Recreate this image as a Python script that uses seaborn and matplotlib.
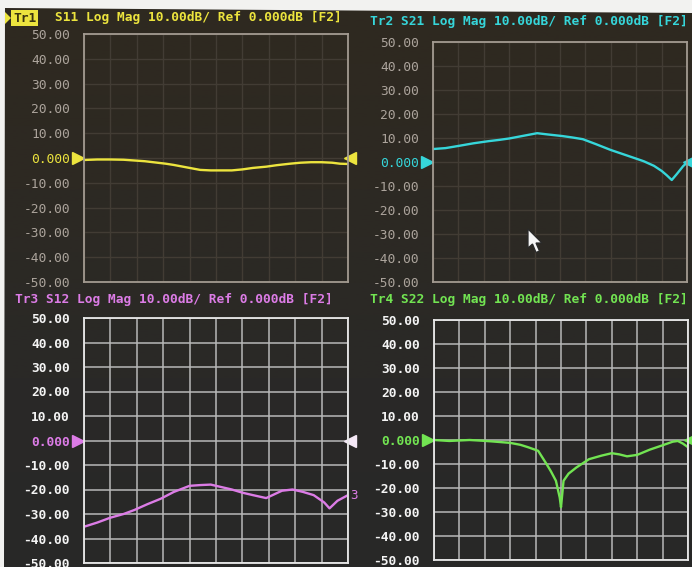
import numpy as np
import matplotlib
matplotlib.use("Agg")
import matplotlib.pyplot as plt
import seaborn as sns
import pandas as pd
from matplotlib.patches import Polygon
from matplotlib.colors import LinearSegmentedColormap
from matplotlib.transforms import blended_transform_factory

# ---- trace data (normalised sweep position, dB) ----
s11_x = [0, .05, .1, .15, .19, .23, .27, .31, .34, .38, .42, .44, .48, .52,
         .56, .6, .64, .69, .73, .78, .82, .86, .9, .94, .97, 1.0]
s11_db = [-0.8, -0.6, -0.6, -0.7, -1.0, -1.3, -1.8, -2.3, -2.8, -3.6, -4.4,
          -4.8, -5.0, -5.0, -5.0, -4.6, -4.0, -3.5, -2.9, -2.3, -1.9, -1.7,
          -1.7, -1.9, -2.3, -2.4]

s21_x = [0, .05, .106, .16, .22, .26, .3, .35, .41, .45, .51, .55, .59, .64,
         .7, .75, .8, .83, .87, .9, .92, .94, .96, .985, 1.0]
s21_db = [5.4, 5.8, 6.8, 7.8, 8.7, 9.2, 9.8, 10.8, 12.0, 11.5, 10.8, 10.2,
          9.5, 7.5, 5.0, 3.2, 1.4, 0.3, -1.6, -3.7, -5.5, -7.5, -5.0, -1.7, -0.3]

s12_x = [0, .05, .1, .15, .19, .24, .29, .34, .4, .44, .48, .52, .56, .6,
         .64, .69, .72, .75, .79, .83, .87, .91, .93, .96, 1.0]
s12_db = [-35.2, -33.5, -31.5, -30.0, -28.4, -26.0, -23.8, -21.0, -18.5,
          -18.2, -18.0, -19.0, -20.0, -21.3, -22.3, -23.5, -22.0, -20.5,
          -20.0, -21.0, -22.3, -25.3, -27.7, -24.6, -22.3]

s22_x = [0, .06, .14, .19, .23, .3, .34, .37, .41, .44, .46, .48, .495, .5,
         .51, .53, .56, .61, .66, .7, .73, .76, .8, .85, .9, .94, .96, .98, 1.0]
s22_db = [0.0, -0.4, 0.0, -0.3, -0.6, -1.2, -2.0, -3.0, -4.5, -9.5, -13.0,
          -17.0, -24.0, -28.0, -17.0, -14.0, -11.5, -8.0, -6.5, -5.5, -6.0,
          -6.8, -6.2, -4.0, -2.2, -0.7, -0.4, -1.5, -3.0]

y_ticks = [50, 40, 30, 20, 10, 0, -10, -20, -30, -40, -50]
titles = ["S11 Log Mag 10.00dB/ Ref 0.000dB [F2]",
          "Tr2 S21 Log Mag 10.00dB/ Ref 0.000dB [F2]",
          "Tr3 S12 Log Mag 10.00dB/ Ref 0.000dB [F2]",
          "Tr4 S22 Log Mag 10.00dB/ Ref 0.000dB [F2]"]

W, H = 692, 567
sns.set_style("dark")
plt.rcParams["font.family"] = ["DejaVu Sans Mono", "DejaVu Sans"]

fig = plt.figure(figsize=(W / 100, H / 100), dpi=100, facecolor="#f2f2f0")


def px_rect(l, t, r, b):
    return [l / W, 1 - b / H, (r - l) / W, (b - t) / H]


# screen backdrop
bg = fig.add_axes([0, 0, 1, 1], zorder=-10)
bg.set_xlim(0, W)
bg.set_ylim(H, 0)
bg.axis("off")
scr_cmap = LinearSegmentedColormap.from_list(
    "scr", ["#2f2920", "#2d2923", "#2a2927", "#282828"])
im = bg.imshow(np.linspace(0, 1, 256)[:, None], aspect="auto", cmap=scr_cmap,
               extent=[0, W, H, 0])
screen = Polygon([(5, 8), (W, 13), (W, H), (4, H)], closed=True,
                 transform=bg.transData, facecolor="none", edgecolor="none")
bg.add_patch(screen)
im.set_clip_path(screen)

panels = [
    dict(rect=(84, 34, 348, 282), x=s11_x, y=s11_db, color="#ece43e",
         dim=True, tx=55, ty=18),
    dict(rect=(433, 42, 687, 282), x=s21_x, y=s21_db, color="#36d6da",
         dim=True, tx=370, ty=22),
    dict(rect=(84, 318, 348, 563), x=s12_x, y=s12_db, color="#dc7ce6",
         dim=False, tx=15, ty=300),
    dict(rect=(434, 320, 688, 560), x=s22_x, y=s22_db, color="#72e452",
         dim=False, tx=370, ty=300),
]

for i, p in enumerate(panels):
    ax = fig.add_axes(px_rect(*p["rect"]))
    ax.set_facecolor("none")
    df = pd.DataFrame({"f": p["x"], "dB": p["y"]})
    sns.lineplot(data=df, x="f", y="dB", ax=ax, color=p["color"], lw=1.7)
    ax.set_xlim(0, 1)
    ax.set_ylim(-50, 50)
    ax.set_xlabel("")
    ax.set_ylabel("")
    ax.set_xticks(np.linspace(0, 1, 11))
    ax.set_xticklabels([])
    ax.set_yticks(y_ticks)
    ax.set_yticklabels(["0.000" if v == 0 else f"{v:.2f}" for v in y_ticks])

    txt_col = "#aca49c" if p["dim"] else "#f4f4f4"
    grid_col = "#423c34" if p["dim"] else "#b8b8b8"
    spine_col = "#a39b91" if p["dim"] else "#e8e8e8"
    ax.tick_params(length=0, pad=10, labelsize=9.3, labelcolor=txt_col)
    for lab, v in zip(ax.get_yticklabels(), y_ticks):
        if not p["dim"]:
            lab.set_fontweight("bold")
        if v == 0:
            lab.set_color(p["color"])
    ax.grid(True, color=grid_col, lw=1.0 if p["dim"] else 1.1)
    for s in ax.spines.values():
        s.set_visible(True)
        s.set_color(spine_col)
        s.set_linewidth(1.3)

    blend = blended_transform_factory(ax.transAxes, ax.transData)
    ax.plot([-0.022], [0], marker=">", ms=8, color=p["color"], transform=blend,
            clip_on=False)
    right_col = p["color"] if i != 2 else "#f4e8f6"
    ax.plot([1.008], [0], marker="<", ms=8, color=right_col, transform=blend,
            clip_on=False)

    fig.text(p["tx"] / W, 1 - p["ty"] / H, titles[i], color=p["color"],
             fontsize=9.3, fontweight="bold", va="center", ha="left")

    if i == 2:
        ax.text(1.01, p["y"][-1], "3", color=p["color"], fontsize=9,
                transform=blend, va="center", ha="left", clip_on=False)

# active-trace flag on the first panel
fig.text(13 / W, 1 - 18 / H, "Tr1", color="#3a3410", fontsize=9.3,
         fontweight="bold", va="center", ha="left",
         bbox=dict(boxstyle="square,pad=0.12", facecolor="#ece43e",
                   edgecolor="none"))
bg.add_patch(Polygon([(5, 12), (11, 18), (5, 24)], closed=True,
                     facecolor="#ece43e", edgecolor="none"))

# mouse pointer (drawn on top of the panels)
ptr = fig.add_axes([0, 0, 1, 1], zorder=10)
ptr.set_xlim(0, W)
ptr.set_ylim(H, 0)
ptr.axis("off")
ptr.add_patch(Polygon([(528, 229), (528, 248), (532.5, 244), (536, 252.5),
                       (539.5, 251), (536, 243), (542, 243)], closed=True,
                      facecolor="#f6f6f6", edgecolor="#2a2a2a", lw=0.9,
                      joinstyle="miter"))

fig.savefig("out.png", dpi=100, facecolor=fig.get_facecolor())
